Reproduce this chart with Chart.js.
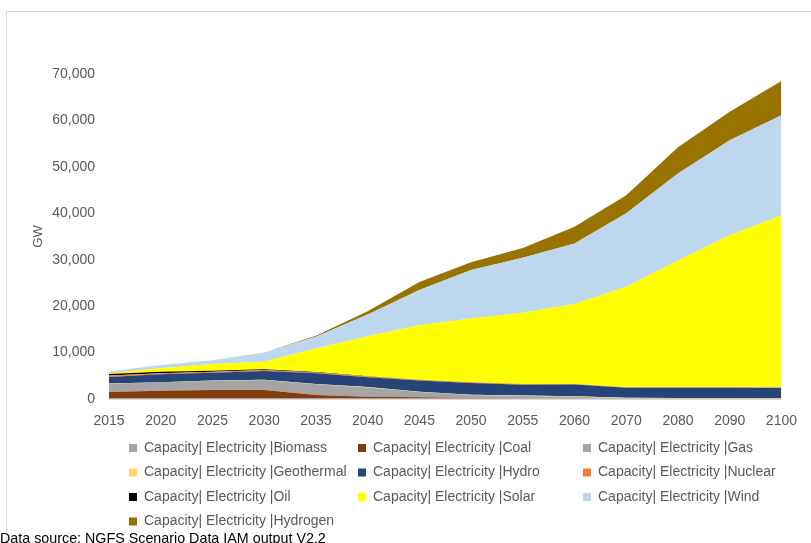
<!DOCTYPE html>
<html>
<head>
<meta charset="utf-8">
<script src="https://cdn.jsdelivr.net/npm/chart.js@4/dist/chart.umd.min.js"></script>
<style>
  html, body { margin: 0; padding: 0; background: #fff; }
  #wrap { position: relative; width: 811px; height: 543px; overflow: hidden; }
  #frame { position: absolute; left: 6px; top: 11px; width: 900px; height: 700px; border: 1px solid #d9d9d9; box-sizing: border-box; }
  canvas { position: absolute; left: 0; top: 0; }
  #src { position: absolute; left: 0px; top: 530px; font-family: "Liberation Sans", Arial, sans-serif; font-size: 14.3px; color: #000; white-space: nowrap; }
</style>
</head>
<body>
<div id="wrap">
  <div id="frame"></div>
  <canvas id="c" width="811" height="543"></canvas>
  <div id="src">Data source: NGFS Scenario Data IAM output V2.2</div>
</div>
<script>
const years = ['2015','2020','2025','2030','2035','2040','2045','2050','2055','2060','2070','2080','2090','2100'];
const yTicks = [0,10000,20000,30000,40000,50000,60000,70000];

const biomass    = [100,100,100,100,100,100,100,100,100,100,100,100,100,100];
const coal       = [1400,1700,1850,1850,750,400,300,100,50,20,0,0,0,0];
const gas        = [1800,1800,2000,2150,2350,2000,1100,660,500,380,50,0,0,0];
const geothermal = [20,20,30,40,50,60,70,80,90,100,100,100,100,100];
const hydro      = [1400,1700,1700,1900,2300,2150,2400,2500,2350,2500,2150,2250,2250,2200];
const nuclear    = [350,250,200,200,150,150,150,150,150,150,150,100,100,100];
const oil        = [300,300,220,150,100,50,30,20,10,0,0,0,0,0];
const solar      = [200,730,1450,1650,5100,8600,11750,13750,15350,17200,21650,27300,32700,37000];
const wind       = [350,700,800,1950,2500,4700,7600,10400,11800,13050,15800,18700,20500,21600];
const hydrogen   = [0,0,0,0,200,700,1700,1700,2100,3600,3900,5700,6100,7400];

const seriesNames = ['Capacity| Electricity |Biomass','Capacity| Electricity |Coal','Capacity| Electricity |Gas',
  'Capacity| Electricity |Geothermal','Capacity| Electricity |Hydro','Capacity| Electricity |Nuclear',
  'Capacity| Electricity |Oil','Capacity| Electricity |Solar','Capacity| Electricity |Wind',
  'Capacity| Electricity |Hydrogen'];
const seriesData = [biomass, coal, gas, geothermal, hydro, nuclear, oil, solar, wind, hydrogen];
const seriesColors = ['#A5A5A5','#843C0C','#A5A5A5','#FFD966','#264478','#ED7D31','#000000','#FFFF00','#BDD7EE','#997300'];

const FONT = '"Liberation Sans", Arial, sans-serif';

const datasets = seriesData.map((d, i) => ({
  label: seriesNames[i],
  data: d,
  backgroundColor: seriesColors[i],
  borderColor: seriesColors[i],
  borderWidth: 0,
  pointRadius: 0,
  tension: 0,
  fill: i === 0 ? 'origin' : '-1'
}));

const legendPlugin = {
  id: 'gridLegend',
  afterDraw(chart) {
    const ctx = chart.ctx;
    const colX = [129, 358, 583];
    const rowY = [448, 472.5, 497, 521.5];
    ctx.save();
    ctx.font = '14px ' + FONT;
    ctx.textBaseline = 'middle';
    ctx.textAlign = 'left';
    chart.data.datasets.forEach((ds, i) => {
      const c = i % 3, r = Math.floor(i / 3);
      const x = colX[c], y = rowY[r];
      ctx.fillStyle = ds.backgroundColor;
      ctx.fillRect(x, y - 4, 8, 8);
      ctx.fillStyle = '#595959';
      ctx.fillText(ds.label, x + 15, y);
    });
    ctx.restore();
  }
};

new Chart(document.getElementById('c'), {
  type: 'line',
  data: { labels: years, datasets },
  options: {
    responsive: false,
    animation: false,
    events: [],
    layout: { padding: { left: 20, right: 24, top: 74, bottom: 114 } },
    plugins: { legend: { display: false }, tooltip: { enabled: false } },
    scales: {
      x: {
        offset: false,
        grid: { display: false, drawTicks: false },
        border: { display: true, color: '#d9d9d9', width: 1 },
        ticks: { color: '#595959', font: { family: FONT, size: 14 }, padding: 14, maxRotation: 0, autoSkip: false },
        afterFit(scale) { scale.height = 30; }
      },
      y: {
        stacked: true,
        min: 0, max: 70000,
        afterBuildTicks(scale) { scale.ticks = yTicks.map(v => ({ value: v })); },
        grid: { display: false, drawTicks: false },
        border: { display: false },
        ticks: {
          color: '#595959', font: { family: FONT, size: 14 }, padding: 14,
          callback: v => v.toLocaleString('en-US')
        },
        title: { display: true, text: 'GW', color: '#595959', font: { family: FONT, size: 13 }, padding: { top: 11, bottom: 0 } },
        afterFit(scale) { scale.width = 89; }
      }
    }
  },
  plugins: [legendPlugin]
});
</script>
</body>
</html>
